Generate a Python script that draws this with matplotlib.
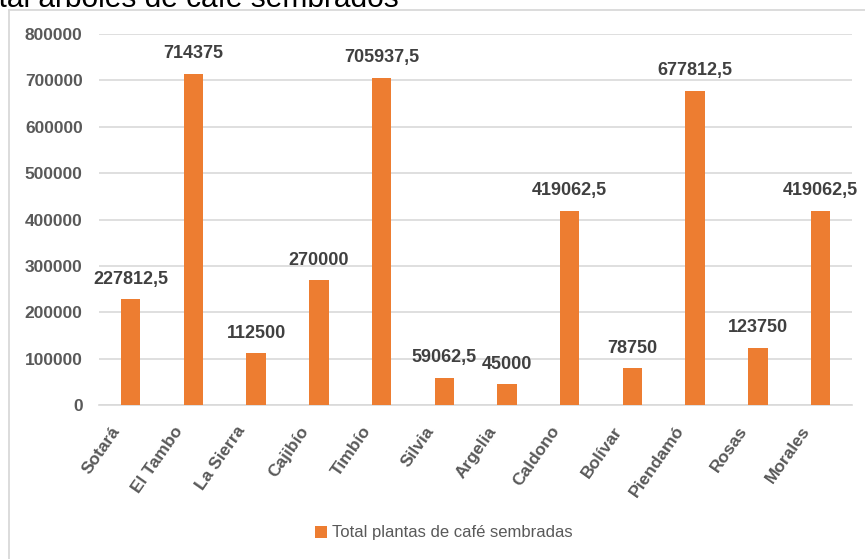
import matplotlib
matplotlib.use("Agg")
import matplotlib.pyplot as plt
from matplotlib.lines import Line2D
from matplotlib.patches import Patch
import matplotlib.transforms as mtransforms

categories = ["Sotará", "El Tambo", "La Sierra", "Cajibío", "Timbío", "Silvia",
              "Argelia", "Caldono", "Bolívar", "Piendamó", "Rosas", "Morales"]
values = [227812.5, 714375, 112500, 270000, 705937.5, 59062.5,
          45000, 419062.5, 78750, 677812.5, 123750, 419062.5]
series_name = "Total plantas de café sembradas"
title = "Total árboles de café sembrados"
yticks = [0, 100000, 200000, 300000, 400000, 500000, 600000, 700000, 800000]

ORANGE = "#ED7D31"
GRID = "#D9D9D9"
TXT = "#595959"
LBL = "#404040"
FONT = ["Liberation Sans", "DejaVu Sans"]

W, H = 865, 559
fig = plt.figure(figsize=(W / 100, H / 100), dpi=100)
fig.patch.set_facecolor("white")

# chart border (partially cropped screenshot)
fig.add_artist(Line2D([9 / W, 9 / W], [0, 1 - 10 / H], color=GRID, lw=1.3))
fig.add_artist(Line2D([9 / W, 1.0], [1 - 10 / H, 1 - 10 / H], color=GRID, lw=1.3))

# cropped title (the reference screenshot cuts it off at the top edge)
fig.text(-33 / W, 1 - 7 / H, title, fontsize=21.5, family=FONT, color="black",
         va="baseline", ha="left")

left, right = 99.4, 851.9
bottom, top = 405, 34
ax = fig.add_axes([left / W, 1 - bottom / H, (right - left) / W, (bottom - top) / H])
x = list(range(len(categories)))
bars = ax.bar(x, values, width=0.31, color=ORANGE, zorder=3, label=series_name)
ax.set_xlim(-0.5, len(categories) - 0.5)
ax.set_ylim(0, 800000)
ax.set_yticks(yticks)
ax.set_yticklabels([str(v) for v in yticks], fontsize=12.5, fontweight="bold",
                   color=TXT, family=FONT)
ax.yaxis.grid(True, color=GRID, lw=1.2, zorder=0)
ax.tick_params(axis="y", length=0, pad=12)
ax.tick_params(axis="x", length=0)
for s in ["top", "right", "left"]:
    ax.spines[s].set_visible(False)
ax.spines["bottom"].set_color(GRID)
ax.spines["bottom"].set_linewidth(1.2)

ax.set_xticks(x)
ax.set_xticklabels(categories, rotation=55, ha="right", va="center",
                   rotation_mode="anchor", fontsize=12.5, fontweight="bold",
                   color=TXT, family=FONT)
offset = mtransforms.ScaledTranslation(-10 / 72, -13 / 72, fig.dpi_scale_trans)
for lab in ax.get_xticklabels():
    lab.set_transform(lab.get_transform() + offset)

def fmt(v):
    if float(v).is_integer():
        return str(int(v))
    return ("%.1f" % v).replace(".", ",")

for xi, v in zip(x, values):
    ax.annotate(fmt(v), (xi, v), xytext=(0, 11), textcoords="offset points",
                ha="center", va="baseline", fontsize=13, fontweight="bold",
                color=LBL, family=FONT)

fig.legend(handles=[Patch(facecolor=ORANGE, edgecolor="none", label=series_name)],
           loc="center", bbox_to_anchor=(444 / W, 1 - 533 / H), frameon=False,
           prop={"family": FONT, "size": 12}, labelcolor=TXT,
           handlelength=0.7, handleheight=0.7, handletextpad=0.3)

fig.savefig("out.png", dpi=100)
